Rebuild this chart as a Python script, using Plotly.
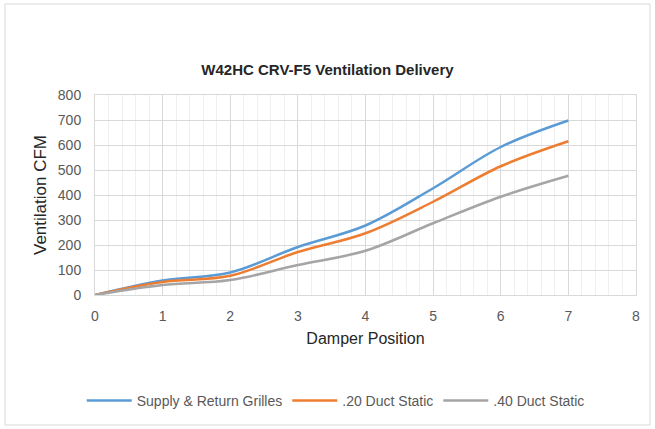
import plotly.graph_objects as go

damper = [0, 1, 2, 3, 4, 5, 6, 7]
supplyReturn = [0, 58, 90, 192, 278, 427, 592, 698]
static20 = [0, 52, 77, 172, 247, 373, 515, 615]
static40 = [0, 40, 60, 120, 177, 287, 393, 477]

seriesNames = ["Supply & Return Grilles", ".20 Duct Static", ".40 Duct Static"]
seriesColors = ["#5B9BD5", "#ED7D31", "#A5A5A5"]

fig = go.Figure()
for name, vals, color in zip(seriesNames, [supplyReturn, static20, static40], seriesColors):
    fig.add_trace(go.Scatter(
        x=damper,
        y=vals,
        name=name,
        mode="lines",
        line=dict(color=color, width=2.5, shape="spline", smoothing=1.0)
    ))

fig.update_layout(
    width=655,
    height=429,
    margin=dict(l=95, r=19, t=95, b=134),
    paper_bgcolor="white",
    plot_bgcolor="white",
    font=dict(family="Liberation Sans, Arial, sans-serif", color="#595959", size=12),
    title=dict(
        text="<b>W42HC CRV-F5 Ventilation Delivery</b>",
        x=0.5, xanchor="center",
        y=1 - 70 / 429, yanchor="middle",
        font=dict(size=15, color="#262626")
    ),
    xaxis=dict(
        range=[0, 8],
        dtick=1,
        showgrid=True,
        gridcolor="#d9d9d9",
        minor=dict(dtick=0.2, showgrid=True, gridcolor="#efefef"),
        zeroline=False,
        showline=True,
        linecolor="#d9d9d9",
        mirror=True,
        ticks="",
        ticklabelstandoff=8,
        tickfont=dict(size=14),
        title=dict(text="Damper Position", font=dict(size=16, color="#262626"), standoff=10)
    ),
    yaxis=dict(
        range=[0, 800],
        dtick=100,
        showgrid=True,
        gridcolor="#d9d9d9",
        zeroline=False,
        showline=True,
        linecolor="#d9d9d9",
        mirror=True,
        ticks="",
        ticklabelstandoff=10,
        tickfont=dict(size=14),
        title=dict(text="Ventilation CFM", font=dict(size=17, color="#262626"), standoff=6)
    ),
    legend=dict(
        orientation="h",
        x=0.445, xanchor="center",
        y=-0.53, yanchor="middle",
        font=dict(size=14, color="#595959"),
        itemwidth=45
    ),
    shapes=[dict(
        type="rect", xref="paper", yref="paper",
        x0=(5 - 95) / 541, x1=(650 - 95) / 541,
        y0=(295 - 425) / 200, y1=(295 - 4) / 200,
        line=dict(color="#d9d9d9", width=1),
        layer="below"
    )]
)

fig.write_html("out.html", config={"displayModeBar": False},
               post_script="document.body.style.margin='0';")
